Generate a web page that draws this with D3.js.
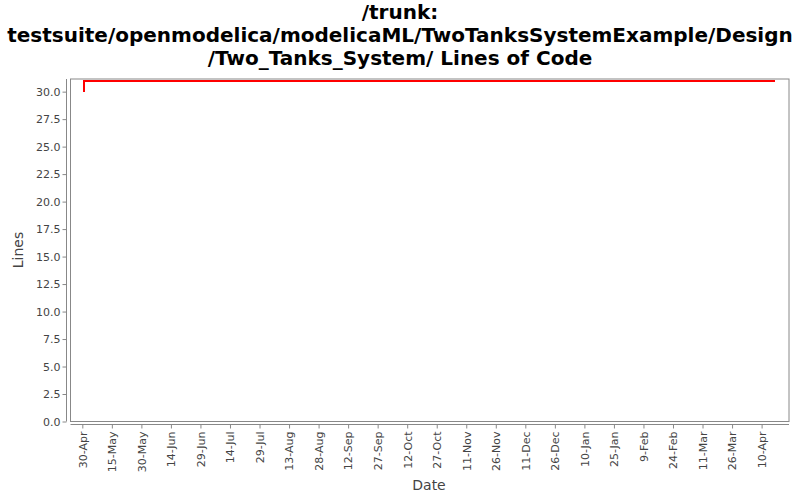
<!DOCTYPE html>
<html><head><meta charset="utf-8">
<script src="https://cdn.jsdelivr.net/npm/d3@7"></script>
<style>body{margin:0;background:#fff}svg{display:block}</style>
</head><body>
<svg id="c" width="800" height="500"></svg>
<script>
const titleLines = ["/trunk:", "testsuite/openmodelica/modelicaML/TwoTanksSystemExample/Design", "/Two_Tanks_System/ Lines of Code"];
const dates = ["2010-04-30T20:40:00Z", "2010-04-30T20:50:00Z", "2011-04-16T17:00:00Z"];
const values = [30, 31, 31];
const yTicks = [0, 2.5, 5, 7.5, 10, 12.5, 15, 17.5, 20, 22.5, 25, 27.5, 30];
const xTickLabels = ["30-Apr","15-May","30-May","14-Jun","29-Jun","14-Jul","29-Jul","13-Aug","28-Aug","12-Sep","27-Sep","12-Oct","27-Oct","11-Nov","26-Nov","11-Dec","26-Dec","10-Jan","25-Jan","9-Feb","24-Feb","11-Mar","26-Mar","10-Apr"];
const xTickStart = "2010-04-30T00:00:00Z";
const xDomain = ["2010-04-24T00:00:00Z", "2011-04-23T22:00:00Z"];
const yDomain = [0, 31.15];

const svg = d3.select("#c");
const L = 70.5, R = 789, T = 79, B = 421.5;
const x = d3.scaleUtc().domain(xDomain.map(d => new Date(d))).range([L, R]);
const y = d3.scaleLinear().domain(yDomain).range([B, T]);
const tickDates = xTickLabels.map((_, i) => d3.utcDay.offset(new Date(xTickStart), i * 15));

// title
svg.append("g").selectAll("text").data(titleLines).join("text")
  .attr("x", 400).attr("y", (d, i) => 19 + i * 23)
  .attr("text-anchor", "middle")
  .attr("font-family", "DejaVu Sans").attr("font-weight", "bold").attr("font-size", 20)
  .attr("fill", "#000").text(d => d);

// plot frame
svg.append("rect").attr("x", L).attr("y", T).attr("width", R - L).attr("height", B - T)
  .attr("fill", "#fff").attr("stroke", "#888").attr("stroke-width", 1);

// y axis
const ya = svg.append("g").attr("transform", "translate(66.5,0)")
  .call(d3.axisLeft(y).tickValues(yTicks).tickFormat(d3.format(".1f")).tickSizeInner(4).tickSizeOuter(0).tickPadding(2));
ya.select(".domain").attr("stroke", "#888").attr("d", `M0,${T}V${B}`);
ya.selectAll(".tick line").attr("stroke", "#888");
ya.selectAll(".tick text").attr("font-family", "DejaVu Sans").attr("font-size", 11).attr("fill", "#444");

// x axis
const xa = svg.append("g").attr("transform", "translate(0,424.5)")
  .call(d3.axisBottom(x).tickValues(tickDates).tickFormat((d, i) => xTickLabels[i]).tickSizeInner(4).tickSizeOuter(0));
xa.select(".domain").attr("stroke", "#888").attr("d", `M${L},0H${R}`);
xa.selectAll(".tick line").attr("stroke", "#888");
xa.selectAll(".tick text").attr("font-family", "DejaVu Sans").attr("font-size", 11).attr("fill", "#444")
  .attr("transform", "rotate(-90)").attr("text-anchor", "end").attr("x", -7).attr("y", 0).attr("dy", "0.35em");

// axis labels
svg.append("text").attr("x", 429).attr("y", 490).attr("text-anchor", "middle")
  .attr("font-family", "DejaVu Sans").attr("font-size", 14).attr("fill", "#444").text("Date");
svg.append("text").attr("transform", "translate(23,250) rotate(-90)").attr("text-anchor", "middle")
  .attr("font-family", "DejaVu Sans").attr("font-size", 14).attr("fill", "#444").text("Lines");

// line
const pts = dates.map((d, i) => ({ d: new Date(d), v: values[i] }));
svg.append("path").datum(pts).attr("fill", "none").attr("stroke", "#ff0000").attr("stroke-width", 2)
  .attr("stroke-linejoin", "miter").attr("shape-rendering", "crispEdges")
  .attr("d", d3.line().x(p => Math.round(x(p.d))).y(p => Math.round(y(p.v))));
</script>
</body></html>
